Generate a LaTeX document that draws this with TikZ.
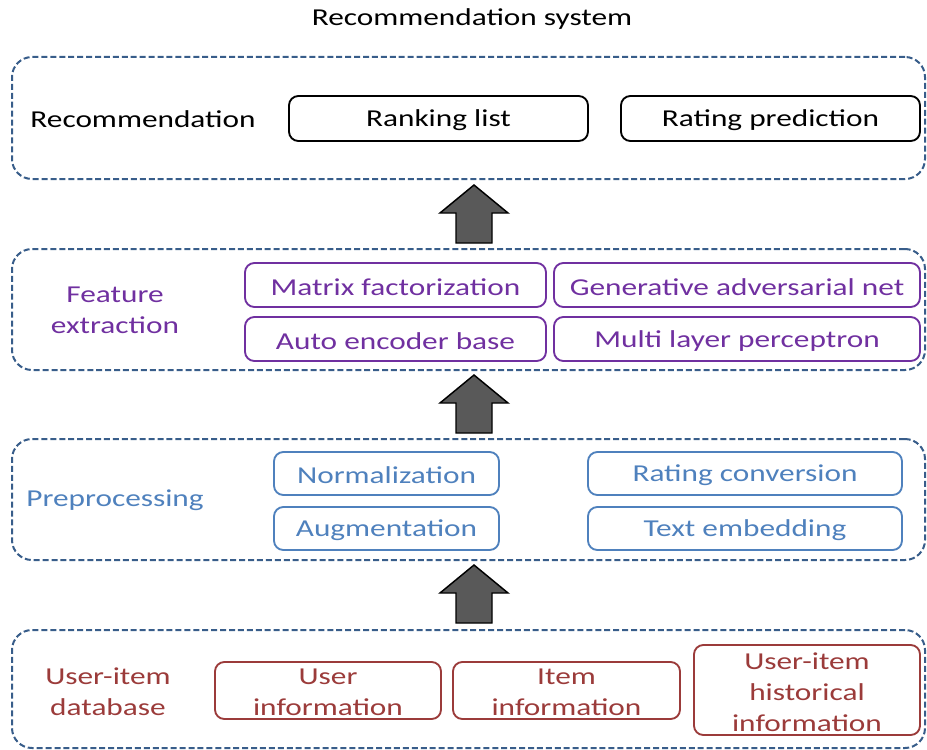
\documentclass[tikz,border=0pt]{standalone}
\usepackage{fontspec}
\setmainfont[FakeStretch=1.29]{Carlito}
\usetikzlibrary{fit}
\definecolor{layerline}{HTML}{385D8A}
\definecolor{featpurple}{HTML}{7030A0}
\definecolor{prepblue}{HTML}{4F81BD}
\definecolor{dbred}{HTML}{9B3B3A}
\definecolor{arrowgray}{HTML}{595959}
\tikzset{
  layer/.style={draw=layerline, line width=1.5pt, dash pattern=on 4.5pt off 2.2pt,
    rounded corners=15pt, inner sep=0pt},
  item/.style={draw, line width=1.4pt, rounded corners=7pt, inner sep=0pt},
  recitem/.style={item, draw=black},
  featitem/.style={item, draw=featpurple},
  prepitem/.style={item, draw=prepblue},
  dbitem/.style={item, draw=dbred},
  caption/.style={align=center, inner sep=0pt},
  blockarrow/.style={draw=black, fill=arrowgray, line width=1.1pt, line join=miter}
}
% box from corner (x1,y1) to (x2,y2), with its text centred inside
\newcommand\itembox[7]{%
  \node[#1, fit={(#3) (#4)}] (#2) {};
  \node[caption, text=#5, yshift=-1.6pt] (#2-text) at (#2.center) {#6};}
\begin{document}
\begin{tikzpicture}[x=0.75pt, y=-0.75pt, font=\fontsize{18.2}{23.3}\selectfont]
\useasboundingbox (0,0) rectangle (927,749);

% title
\node[caption] (title) at (472,19) {Recommendation system};

% recommendation layer
\node[layer, fit={(12,57) (925,179)}] (recL) {};
\node[caption] (recT) at (143,119) {Recommendation};
\itembox{recitem}{rank}{289,96}{588,141}{black}{Ranking list}{}
\itembox{recitem}{rating}{621,96}{920,141}{black}{Rating prediction}{}

% feature extraction layer
\node[layer, fit={(12,249) (925,370)}] (featL) {};
\node[caption, text=featpurple] (featT) at (115,310) {Feature\\extraction};
\itembox{featitem}{mf}{245,263}{546,307}{featpurple}{Matrix factorization}{}
\itembox{featitem}{gan}{554,263}{920,307}{featpurple}{Generative adversarial net}{}
\itembox{featitem}{ae}{245,317}{546,361}{featpurple}{Auto encoder base}{}
\itembox{featitem}{mlp}{554,317}{920,361}{featpurple}{Multi layer perceptron}{}

% preprocessing layer
\node[layer, fit={(12,439) (925,560)}] (prepL) {};
\node[caption, text=prepblue] (prepT) at (115,500) {Preprocessing};
\itembox{prepitem}{norm}{274,452}{499,495}{prepblue}{Normalization}{}
\itembox{prepitem}{aug}{274,507}{499,550}{prepblue}{Augmentation}{}
\itembox{prepitem}{conv}{588,452}{902,495}{prepblue}{Rating conversion}{}
\itembox{prepitem}{emb}{588,507}{902,550}{prepblue}{Text embedding}{}

% user-item database layer
\node[layer, fit={(12,630) (925,748)}] (dbL) {};
\node[caption, text=dbred] (dbT) at (108,692) {User-item\\database};
\itembox{dbitem}{user}{215,662}{441,719}{dbred}{User\\information}{}
\itembox{dbitem}{itemi}{453,662}{680,719}{dbred}{Item\\information}{}
\itembox{dbitem}{hist}{694,645}{920,735}{dbred}{User-item\\historical\\information}{}

% block arrows between layers
\foreach \a/\ybase in {a1/243, a2/433, a3/623}{
  \coordinate (\a) at (474,\ybase);
  \draw[blockarrow] (\a) ++(-18,0) -- ++(0,-30) -- ++(-16,0) -- ++(34,-28)
    -- ++(34,28) -- ++(-16,0) -- ++(0,30) -- cycle;
}
\end{tikzpicture}
\end{document}
